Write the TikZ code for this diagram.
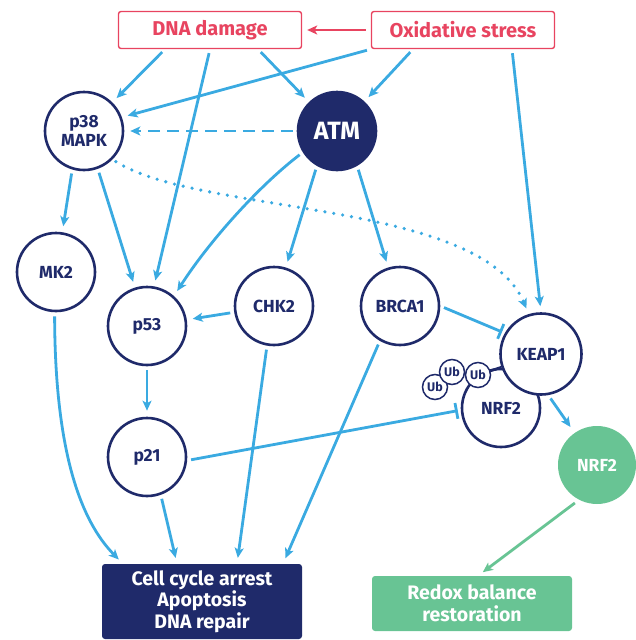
\documentclass[tikz,border=0pt]{standalone}
\usepackage{fontspec}
\setmainfont{Fira Sans}
\usetikzlibrary{arrows.meta,calc}
\definecolor{navy}{RGB}{31,42,106}
\definecolor{skyblue}{RGB}{58,170,225}
\definecolor{rosered}{RGB}{232,68,96}
\definecolor{mint}{RGB}{104,196,148}

\begin{document}
\begin{tikzpicture}[x=1pt,y=-1pt,
    mol/.style={circle, draw=navy, line width=2.6pt, fill=white, minimum size=78pt, inner sep=0pt,
      text=navy, align=center, font=\fontsize{17.5}{19}\selectfont\bfseries},
    stress/.style={draw=rosered, line width=1.4pt, rounded corners=2.5pt, fill=white,
      minimum width=183pt, minimum height=37pt, text=rosered, font=\fontsize{20}{21}\selectfont\bfseries},
    outcome/.style={rounded corners=3pt, text=white, align=center, minimum width=200pt,
      font=\fontsize{19.5}{21.5}\selectfont\bfseries},
    ub/.style={circle, draw=navy, line width=1.5pt, fill=white, minimum size=25pt, inner sep=0pt,
      text=navy, font=\fontsize{12.5}{12.5}\selectfont\bfseries},
    act/.style={draw=skyblue, line width=2.8pt, -{Stealth[length=10pt,width=9pt,inset=2.5pt]},
      shorten <=4pt, shorten >=6pt},
    inh/.style={draw=skyblue, line width=2.8pt, -{Bar[width=16pt,line width=2.8pt]},
      shorten <=4pt, shorten >=3pt}]
  \useasboundingbox (0,0) rectangle (636,640);

  \node [stress] (dna) at (210,30) {DNA damage};
  \node [stress] (ox) at (463,30) {Oxidative stress};

  \node [mol] (p38) at (84,131) {p38\\MAPK};
  \node [mol, fill=navy, text=white, font=\fontsize{25}{26}\selectfont\bfseries] (atm) at (337,131) {ATM};
  \node [mol] (mk2) at (56,272) {MK2};
  \node [mol] (p53) at (147,326) {p53};
  \node [mol] (chk2) at (274,306) {CHK2};
  \node [mol] (brca) at (400,306) {BRCA1};
  \node [mol] (p21) at (147,457) {p21};
  \node [mol] (nrf) at (501,408) {NRF2};
  \node [mol, minimum size=81pt] (keap) at (541,354) {KEAP1};
  \node [mol, draw=none, fill=mint, text=white] (nrfg) at (597,465) {NRF2};

  \node [ub] (ub1) at (435,387) {Ub};
  \node [ub] (ub2) at (452,372) {Ub};
  \node [ub] (ub3) at (478,375) {Ub};
  \draw [navy, line width=2.6pt] (ub3) -- (keap);

  \node [outcome, fill=navy, minimum height=75pt] (cell) at (202,601.5) {Cell cycle arrest\\Apoptosis\\DNA repair};
  \node [outcome, fill=mint, minimum height=55pt] (redox) at (472,603.5) {Redox balance\\restoration};

  \draw [rosered, line width=2.8pt, -{Stealth[length=10pt,width=9pt,inset=2.5pt]}, shorten <=5pt, shorten >=5pt] (ox) -- (dna);

  \draw [act] ([xshift=-45pt]dna.south) -- (p38);
  \draw [act] (dna.south) -- (p53.80);
  \draw [act] ([xshift=48pt]dna.south) -- (atm);
  \draw [act] (ox.south west) -- (p38.20);
  \draw [act] ([xshift=-50pt]ox.south) -- (atm);
  \draw [act] ([xshift=49pt]ox.south) -- (keap.north);

  \draw [act, dash pattern=on 12pt off 7pt] (atm) -- (p38);
  \draw [act] (p38.-107) -- (mk2);
  \draw [act] (p38.-70) -- (p53);
  \draw [act, line width=3.6pt, line cap=round, dash pattern=on 0pt off 9pt] (p38.-45) .. controls (200,215) and (480,200) .. (keap.107);

  \draw [act] (atm.-148) .. controls (260,185) and (210,240) .. (p53.48);
  \draw [act] (atm.-120) -- (chk2);
  \draw [act] (atm.-60) -- (brca);
  \draw [act] (chk2) -- (p53);
  \draw [act] (p53) -- (p21);

  \draw [inh] (brca.0) -- (keap.150);
  \draw [inh] (p21.-5) -- (nrf.183);

  \draw [act] (mk2.-92) .. controls (55,450) and (80,520) .. ([xshift=-79pt]cell.north);
  \draw [act] (p21.-70) -- ([xshift=-25pt]cell.north);
  \draw [act] (chk2.-100) -- ([xshift=35pt]cell.north);
  \draw [act] (brca.-120) -- ([xshift=81pt]cell.north);

  \draw [act] (keap.-80) -- (nrfg);
  \draw [act, draw=mint] (nrfg.-118) -- ([xshift=6pt]redox.north);
\end{tikzpicture}
\end{document}
